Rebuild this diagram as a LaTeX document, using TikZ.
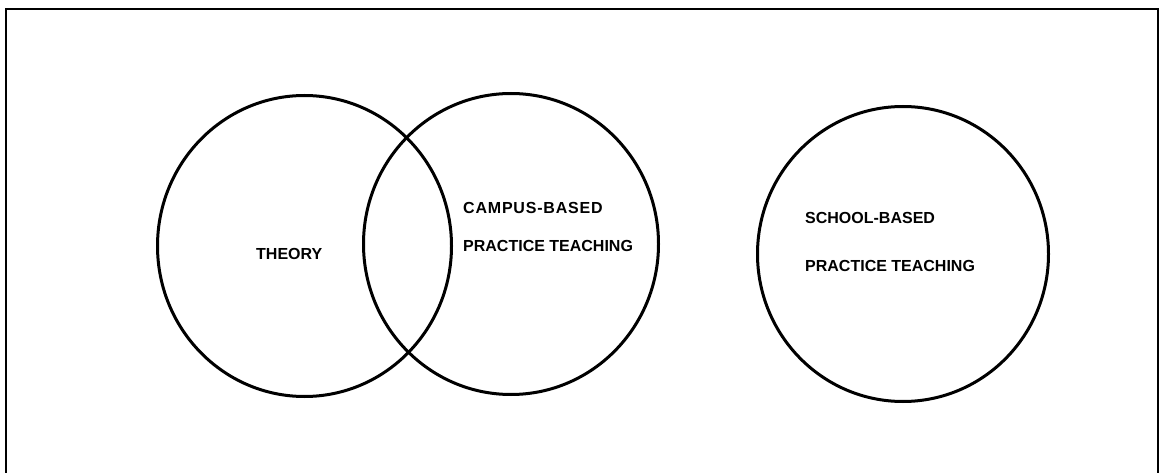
\documentclass[tikz,border=0pt]{standalone}
\usepackage{fontspec}
\setmainfont{Liberation Sans}
\usetikzlibrary{shapes.geometric}
\tikzset{
  ring/.style={draw, ellipse, line width=3pt, inner sep=0pt},
  lbl/.style={anchor=west, inner sep=0pt, font=\bfseries\fontsize{16}{19}\selectfont},
  frame/.style={line width=2pt}
}
\begin{document}
\begin{tikzpicture}[x=1pt,y=-1pt]
\useasboundingbox (0,0) rectangle (1163,473);
\coordinate (bl) at (6,473);
\coordinate (tl) at (6,9);
\coordinate (tr) at (1158,9);
\coordinate (br) at (1158,473);
\draw[frame] (bl) -- (tl) -- (tr) -- (br);
\node[ring, minimum width=294pt, minimum height=301pt] (theory) at (304.5,246) {};
\node[ring, minimum width=295pt, minimum height=301pt] (campus) at (511,244) {};
\node[ring, minimum width=291pt, minimum height=295pt] (school) at (903,254) {};
\node[lbl] (t1) at (256,254) {THEORY};
\node[lbl] (c1) at (463,207.5) {\addfontfeatures{LetterSpace=5}CAMPUS-BASED};
\node[lbl] (c2) at (463,246) {PRACTICE TEACHING};
\node[lbl] (s1) at (805,218) {SCHOOL-BASED};
\node[lbl] (s2) at (805,266) {PRACTICE TEACHING};
\end{tikzpicture}
\end{document}
